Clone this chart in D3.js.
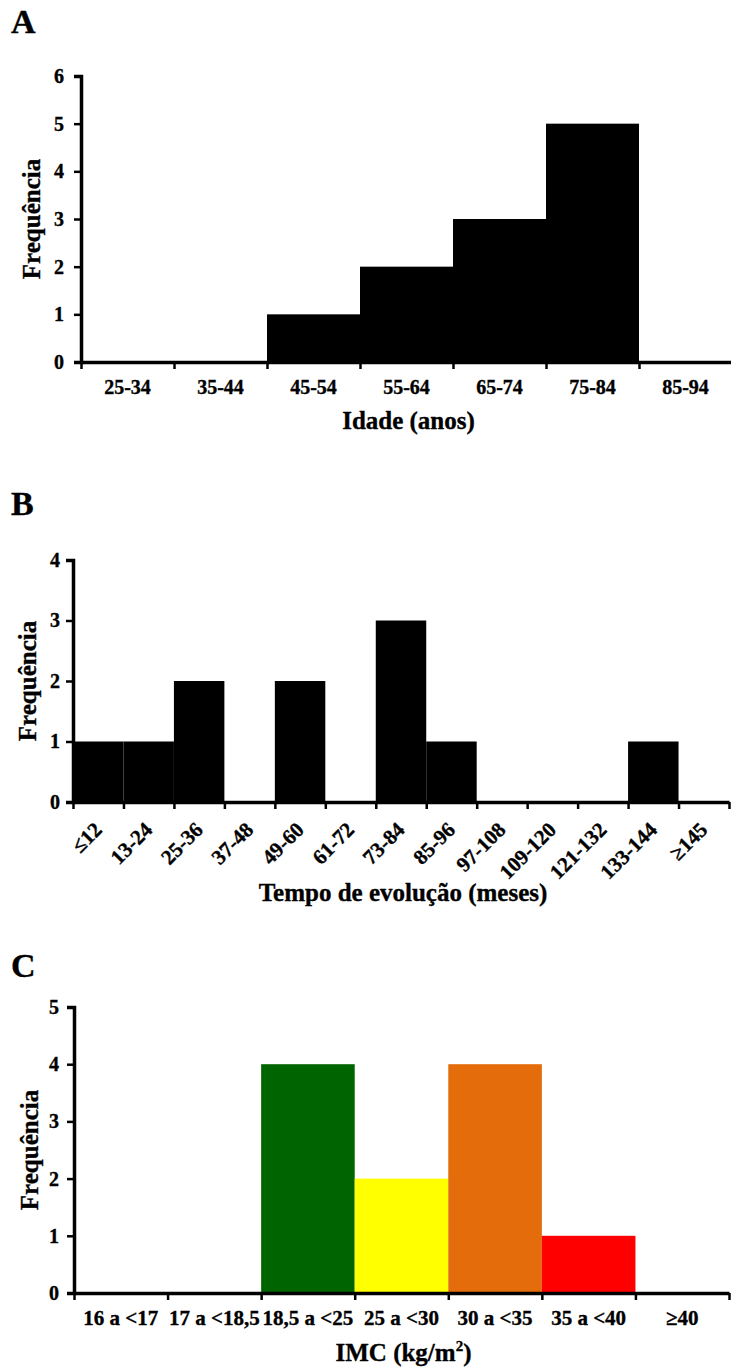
<!DOCTYPE html>
<html>
<head>
<meta charset="utf-8">
<script src="https://cdn.jsdelivr.net/npm/d3@7"></script>
<style>
    body { margin: 0; background: #fff; }
    svg text { font-family: "Liberation Serif", "Times New Roman", serif; font-weight: bold; fill: #000; stroke: #000; stroke-width: 0.35px; }
    .axis path, .axis line { stroke: #000; }
</style>
</head>
<body>
<div id="app"></div>
<script>
// A - idade
const idadeCats = ["25-34", "35-44", "45-54", "55-64", "65-74", "75-84", "85-94"];
const idadeFreq = [0, 0, 1, 2, 3, 5, 0];

// B - tempo de evolucao
const tempoCats = ["≤12", "13-24", "25-36", "37-48", "49-60", "61-72", "73-84", "85-96",
    "97-108", "109-120", "121-132", "133-144", "≥145"];
const tempoFreq = [1, 1, 2, 0, 2, 0, 3, 1, 0, 0, 0, 1, 0];

// C - IMC
const imcCats = ["16 a <17", "17 a <18,5", "18,5 a <25", "25 a <30", "30 a <35", "35 a <40", "≥40"];
const imcFreq = [0, 0, 4, 2, 4, 1, 0];
const imcColors = ["#000", "#000", "#006400", "#ffff00", "#e46c0a", "#ff0000", "#000"];

const width = 731;
const height = 1370;

const svg = d3.select('#app')
    .append('svg')
    .attr('width', width)
    .attr('height', height);

const drawPanel = (p) => {
    const n = p.cats.length;
    const x = d3.scaleLinear().domain([0, n]).range([p.left, p.right]);
    const y = d3.scaleLinear().domain([0, p.yMax]).range([p.bottom, p.top]);

    const g = svg.append('g');

    g.append('text')
        .attr('x', 11)
        .attr('y', p.letterY)
        .attr('font-size', 34)
        .text(p.letter);

    g.selectAll('rect')
        .data(p.values)
        .enter()
        .append('rect')
        .attr('x', (d, i) => x(i))
        .attr('y', d => y(d))
        .attr('width', x(1) - x(0))
        .attr('height', d => y(0) - y(d))
        .attr('fill', (d, i) => p.colors ? p.colors[i] : '#000');

    // y axis
    const yAxis = g.append('g')
        .attr('class', 'axis')
        .attr('transform', 'translate(' + p.left + ',0)')
        .call(d3.axisLeft(y).ticks(p.yMax).tickSize(7).tickPadding(p.yPad).tickFormat(d3.format('d')));
    yAxis.select('.domain').attr('stroke-width', 3.5);
    yAxis.selectAll('.tick line').attr('stroke-width', 2.5);
    yAxis.selectAll('text').attr('font-size', 20).attr('font-family', null);

    // x axis, ticks on category boundaries
    const xAxis = g.append('g')
        .attr('class', 'axis')
        .attr('transform', 'translate(0,' + p.bottom + ')')
        .call(d3.axisBottom(x).tickValues(d3.range(n + 1)).tickSize(7).tickSizeOuter(0).tickFormat(''));
    xAxis.select('.domain').attr('stroke-width', 3.5);
    xAxis.selectAll('.tick line').attr('stroke-width', 2.5);

    const labels = g.selectAll('.cat')
        .data(p.cats)
        .enter()
        .append('text')
        .attr('class', 'cat')
        .attr('font-size', p.labelSize);

    if (p.rotate) {
        labels
            .attr('text-anchor', 'end')
            .attr('transform', (d, i) => 'translate(' + (x(i + 0.5) + 5) + ',' + (p.bottom + 29) + ')rotate(-45)')
            .text(d => d);
    } else {
        labels
            .attr('text-anchor', 'middle')
            .attr('x', (d, i) => x(i + 0.5))
            .attr('y', p.bottom + p.labelDy)
            .text(d => d);
    }

    g.append('text')
        .attr('transform', 'translate(' + p.yTitleX + ',' + ((p.top + p.bottom) / 2) + ')rotate(-90)')
        .attr('text-anchor', 'middle')
        .attr('font-size', 25)
        .text('Frequência');

    const title = g.append('text')
        .attr('x', (p.left + p.right) / 2 + 2)
        .attr('y', p.titleY)
        .attr('text-anchor', 'middle')
        .attr('font-size', 25);
    title.text(p.title);
    if (p.titleSup) {
        title.append('tspan').attr('font-size', 15).attr('dy', -10).text(p.titleSup);
        title.append('tspan').attr('dy', 10).text(p.titleEnd);
    }
};

drawPanel({
    letter: 'A', letterY: 33,
    cats: idadeCats, values: idadeFreq, yMax: 6, labelSize: 20,
    left: 81, right: 732, top: 76, bottom: 362,
    yPad: 10, labelDy: 32, yTitleX: 40,
    title: 'Idade (anos)', titleY: 429
});

drawPanel({
    letter: 'B', letterY: 515,
    cats: tempoCats, values: tempoFreq, yMax: 4, rotate: true, labelSize: 21,
    left: 73, right: 729, top: 560, bottom: 802,
    yPad: 6, yTitleX: 36,
    title: 'Tempo de evolução (meses)', titleY: 901
});

drawPanel({
    letter: 'C', letterY: 977,
    cats: imcCats, values: imcFreq, colors: imcColors, yMax: 5, labelSize: 21,
    left: 74, right: 729, top: 1007, bottom: 1293,
    yPad: 8, labelDy: 32, yTitleX: 38,
    title: 'IMC (kg/m', titleSup: '2', titleEnd: ')', titleY: 1361
});
</script>
</body>
</html>
